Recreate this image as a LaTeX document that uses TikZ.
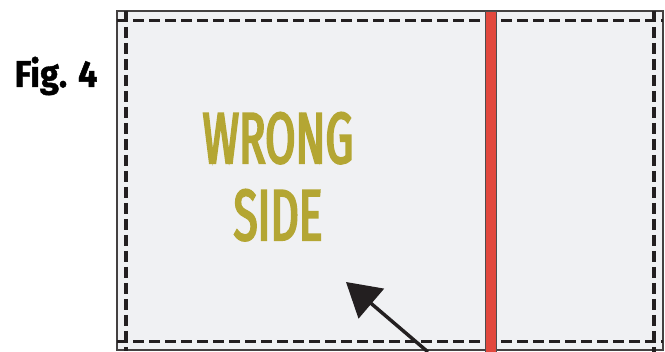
\documentclass[tikz,border=0pt]{standalone}
\usepackage{fontspec}
\newfontfamily\figfont[FakeStretch=0.92, BoldFeatures={FakeBold=1.2}]{Fira Sans}
\newfontfamily\sidefont[FakeStretch=0.61, FakeBold=3]{Fira Sans}
\usepackage{xcolor}
\usetikzlibrary{arrows.meta, positioning}

\definecolor{panel}{HTML}{F0F1F3}
\definecolor{seam}{HTML}{E2483D}
\definecolor{olive}{HTML}{B4A633}
\definecolor{ink}{HTML}{231F20}

\begin{document}
\begin{tikzpicture}[x=0.75pt, y=-0.75pt,
  edge/.style={draw=ink!85, line width=0.8pt},
  stitch/.style={draw=ink, line width=2.6pt, dash pattern=on 8.2pt off 3.8pt},
  strip/.style={fill=seam, draw=ink!80, line width=0.7pt},
  label text/.style={text=olive, font=\sidefont\fontsize{54}{54}\selectfont, inner sep=0pt},
  pointer/.style={draw=ink, line width=2.6pt, -{Triangle[length=25pt, width=29pt]}}]
\useasboundingbox (0,0) rectangle (665,352);

% fabric panel
\filldraw[edge, fill=panel] (117,11) rectangle (663,350);

% stitching lines
\draw[stitch] (117,20.5) -- (663,20.5);
\draw[stitch] (117,341.5) -- (663,341.5);
\draw[stitch] (126,11) -- (126,351);
\draw[stitch] (654,11) -- (654,352);

% seam strip
\draw[strip] (485,11) rectangle (496,352);

% labels
\node[anchor=base, inner sep=0pt, font=\figfont\bfseries\fontsize{28}{28}\selectfont] (fig) at (56,87) {Fig. 4};
\node[label text, anchor=base] (wrong) at (278,163) {WRONG};
\node[label text, anchor=base] (side) at ([yshift=-57.75pt]wrong.base) {SIDE};

% arrow
\coordinate (tail) at (428,352);
\coordinate (head) at (346,282);
\draw[pointer] (tail) -- (head);
\end{tikzpicture}
\end{document}
